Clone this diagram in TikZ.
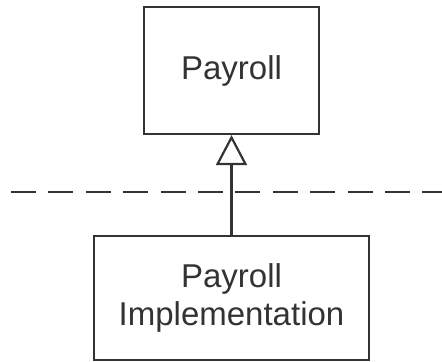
\documentclass[tikz,border=0pt]{standalone}
\usepackage{fontspec}
\setmainfont{Liberation Sans}
\usepackage{tikz}
\usetikzlibrary{arrows.meta,positioning}

\colorlet{inkgray}{black!80}

\tikzset{
  classbox/.style={draw=inkgray, text=inkgray, line width=1.1pt, align=center, font=\fontsize{16.5}{19}\selectfont},
  realizes/.style={draw=inkgray, line width=1.1pt, -{Triangle[open, length=15pt, width=15.5pt, line width=1.1pt]}},
  boundary/.style={draw=inkgray, line width=1.4pt, dash pattern=on 12.5pt off 6.2pt}
}

\begin{document}
\begin{tikzpicture}[x=0.5pt, y=-0.5pt]
        \useasboundingbox (0,0) rectangle (442,362);

        % Interface and its implementation
        \node[classbox, minimum width=87.5pt, minimum height=63.5pt] (payroll) at (231.5,70.5) {Payroll};
        \node[classbox, minimum width=137.5pt, minimum height=62pt] (payrollimpl) at (231.5,298) {Payroll\\Implementation};

        % Package boundary
        \coordinate (bleft) at (11,192);
        \coordinate (bright) at (442,192);
        \draw[boundary] (bleft) -- (bright);

        % Realization arrow
        \draw[realizes] (payrollimpl.north) -- (payroll.south);
\end{tikzpicture}
\end{document}
